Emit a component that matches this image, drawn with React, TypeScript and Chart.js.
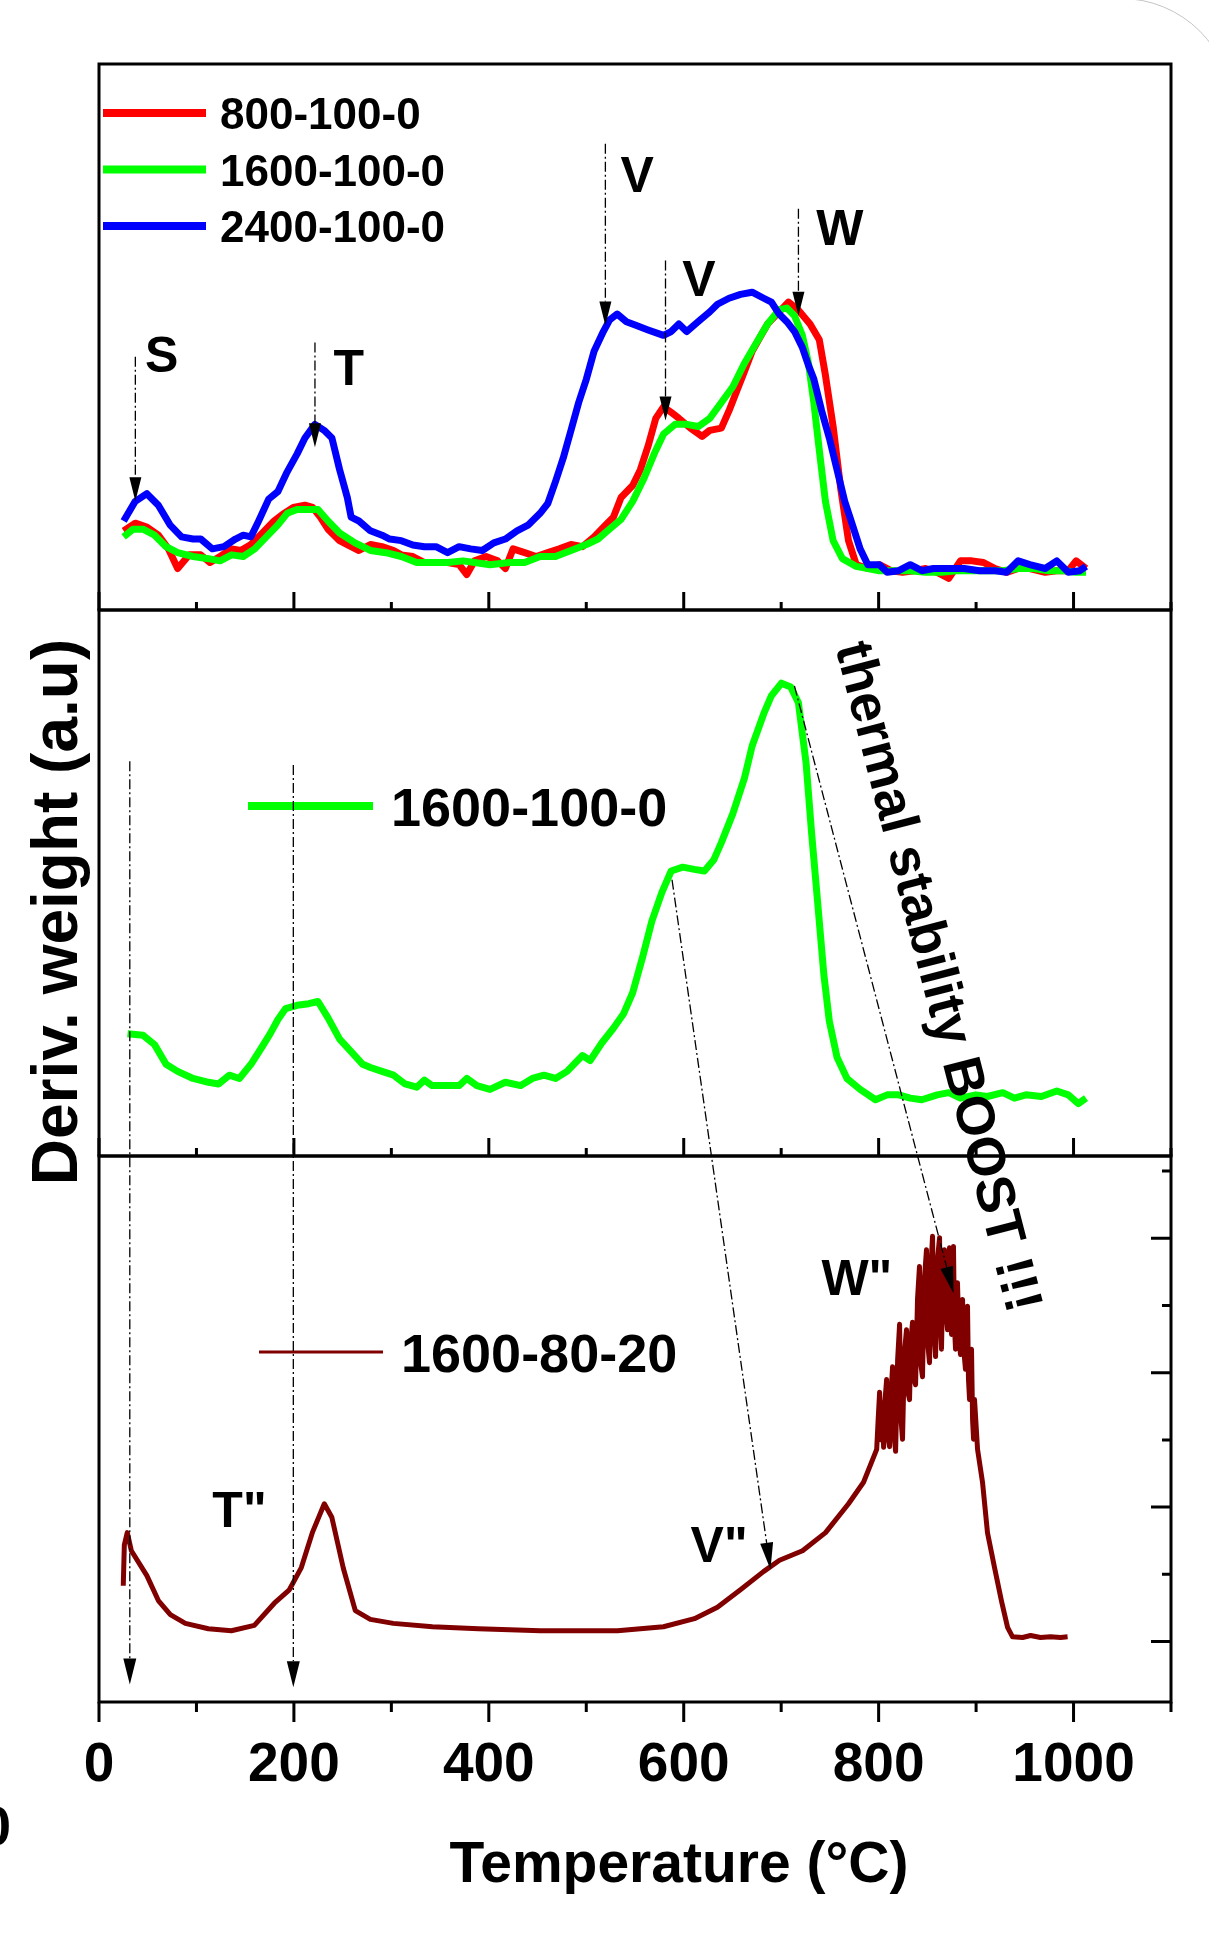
import React, { useEffect, useRef } from 'react';
import { Chart, registerables } from 'chart.js';

Chart.register(...registerables);

const FONT = "'Liberation Sans', Arial, Helvetica, sans-serif";

// ---- Panel (a): three samples, temperature (°C) and derivative weight (a.u., 0-100 panel units)
const RED_T = [25.3, 37.2, 49.1, 60.9, 71.2, 80.7, 92.6, 104.4, 113.9, 124.2, 136.1, 145.6, 155.9, 167.7, 179.6, 189.9, 199.4, 211.3, 219.2, 227.1, 235.0, 246.9, 258.7, 266.7, 278.5, 290.4, 302.3, 310.2, 322.0, 333.9, 345.8, 357.7, 369.5, 377.4, 385.4, 397.2, 409.1, 417.0, 424.9, 436.8, 448.6, 460.5, 472.4, 484.3, 496.1, 508.0, 519.9, 527.8, 535.7, 547.6, 555.5, 563.4, 571.3, 579.2, 587.1, 595.0, 606.9, 618.8, 626.7, 638.6, 646.5, 654.4, 662.3, 670.2, 678.1, 686.1, 697.9, 707.4, 717.7, 729.6, 739.1, 745.4, 753.3, 761.2, 769.1, 777.0, 788.9, 800.8, 812.7, 824.5, 836.4, 848.3, 860.1, 872.0, 883.9, 895.7, 907.6, 919.5, 931.3, 943.2, 955.1, 970.9, 982.8, 994.6, 1002.6, 1012.8];
const RED_V = [14.5, 15.9, 15.2, 13.7, 11.2, 7.6, 10.1, 10.1, 8.7, 9.8, 11.2, 10.9, 12.0, 14.1, 16.3, 17.7, 18.8, 19.2, 18.8, 17.0, 14.8, 12.7, 11.6, 10.9, 12.0, 11.6, 10.9, 10.1, 9.8, 8.7, 8.7, 8.7, 8.3, 6.5, 9.0, 9.8, 9.0, 7.6, 11.2, 10.5, 9.8, 10.5, 11.2, 12.0, 11.6, 13.4, 15.6, 17.0, 20.6, 22.8, 25.7, 30.0, 35.1, 37.2, 36.2, 35.1, 33.3, 31.8, 32.9, 33.3, 36.5, 40.1, 43.7, 47.4, 49.9, 52.4, 54.6, 56.4, 54.9, 52.4, 49.5, 43.0, 33.6, 22.1, 12.7, 8.3, 7.6, 8.3, 7.2, 6.9, 7.2, 7.6, 6.9, 5.8, 9.0, 9.0, 8.7, 7.6, 6.9, 7.6, 7.6, 6.9, 7.2, 7.2, 9.0, 7.6];

const GREEN_T = [25.3, 34.8, 45.1, 57.0, 68.8, 80.7, 96.5, 112.4, 124.2, 136.1, 148.0, 159.8, 171.7, 183.6, 193.1, 203.3, 215.2, 224.7, 235.0, 246.9, 262.7, 278.5, 294.4, 310.2, 326.0, 341.8, 357.7, 373.5, 385.4, 401.2, 421.0, 436.8, 452.6, 468.4, 484.3, 500.1, 512.0, 523.8, 535.7, 547.6, 559.4, 569.7, 579.2, 591.1, 603.0, 614.8, 626.7, 638.6, 650.4, 662.3, 674.2, 686.1, 697.9, 705.8, 713.7, 721.7, 728.0, 733.5, 739.1, 745.4, 753.3, 762.8, 777.0, 788.9, 800.8, 816.6, 832.4, 848.3, 864.1, 879.9, 895.7, 911.6, 927.4, 943.2, 959.0, 974.9, 990.7, 1002.6, 1012.8];
const GREEN_V = [13.4, 14.8, 14.8, 13.7, 11.6, 10.5, 9.8, 9.4, 9.0, 10.1, 9.8, 11.2, 13.4, 15.6, 17.7, 18.4, 18.4, 18.4, 16.3, 14.1, 12.3, 10.9, 10.5, 9.8, 8.7, 8.7, 8.7, 9.0, 8.7, 8.3, 8.7, 8.7, 9.8, 9.8, 10.9, 12.0, 13.0, 14.8, 16.6, 19.9, 24.2, 28.6, 32.2, 34.0, 34.0, 33.6, 35.1, 38.0, 40.9, 45.2, 48.8, 52.4, 55.0, 55.3, 53.9, 50.3, 45.2, 38.0, 29.3, 19.9, 12.7, 9.4, 8.0, 7.6, 7.2, 7.2, 7.2, 6.9, 6.9, 7.2, 7.2, 7.2, 7.2, 7.6, 7.6, 7.2, 7.2, 6.9, 6.9];

const BLUE_T = [25.3, 37.2, 49.1, 60.9, 72.8, 84.7, 96.5, 104.4, 116.3, 128.2, 140.0, 148.0, 155.9, 163.8, 174.1, 183.6, 193.1, 203.3, 211.3, 221.5, 231.0, 239.0, 246.9, 254.8, 258.7, 266.7, 278.5, 290.4, 298.3, 310.2, 322.0, 333.9, 345.8, 357.7, 369.5, 381.4, 393.3, 405.1, 417.0, 428.9, 440.7, 452.6, 460.5, 468.4, 476.3, 484.3, 492.2, 500.1, 508.0, 517.5, 523.8, 531.7, 541.2, 551.5, 563.4, 579.2, 587.1, 595.0, 603.0, 614.8, 626.7, 634.6, 646.5, 658.3, 670.2, 682.1, 690.0, 697.9, 705.8, 713.7, 721.7, 728.0, 733.5, 741.5, 749.4, 757.3, 765.2, 773.1, 781.0, 788.9, 800.8, 808.7, 820.6, 832.4, 844.3, 856.2, 872.0, 887.8, 903.6, 919.5, 931.3, 943.2, 955.1, 970.9, 982.8, 994.6, 1006.5, 1012.8];
const BLUE_V = [16.3, 19.9, 21.3, 19.2, 15.6, 13.4, 13.0, 13.0, 11.2, 11.6, 13.0, 13.7, 13.4, 16.3, 20.3, 21.7, 25.3, 28.6, 31.5, 34.0, 32.9, 31.5, 25.7, 20.6, 17.0, 16.3, 14.5, 13.7, 13.0, 12.7, 11.9, 11.6, 11.6, 10.5, 11.6, 11.2, 10.9, 12.3, 13.0, 14.5, 15.6, 17.7, 19.5, 23.5, 27.8, 32.9, 38.0, 42.3, 47.4, 51.0, 53.1, 54.2, 52.8, 52.1, 51.3, 50.3, 51.0, 52.4, 51.0, 52.8, 54.6, 56.0, 57.1, 57.8, 58.2, 57.1, 56.4, 54.2, 52.8, 51.0, 48.1, 44.8, 42.3, 36.5, 31.5, 25.7, 19.9, 15.6, 11.2, 8.3, 8.3, 6.9, 7.2, 8.3, 7.2, 7.6, 7.6, 7.6, 7.2, 7.2, 6.9, 9.0, 8.3, 7.6, 9.0, 6.9, 7.2, 8.0];

// ---- Panel (b): 1600-100-0 alone
const MID_T = [29.3, 45.1, 57.0, 68.8, 80.7, 96.5, 112.4, 122.6, 133.7, 144.0, 155.9, 167.7, 175.7, 183.6, 191.5, 203.3, 215.2, 224.7, 235.0, 246.9, 258.7, 270.6, 278.5, 290.4, 302.3, 314.1, 326.0, 333.9, 341.8, 357.7, 369.5, 377.4, 387.7, 401.2, 417.0, 432.8, 444.7, 456.6, 468.4, 480.3, 496.1, 504.0, 515.9, 527.8, 538.1, 547.6, 557.9, 567.3, 577.6, 587.1, 599.0, 610.9, 621.2, 630.7, 638.6, 650.4, 662.3, 670.2, 682.1, 690.0, 700.3, 709.8, 717.7, 725.6, 731.1, 737.5, 743.8, 749.4, 757.3, 767.5, 781.0, 796.8, 808.7, 820.6, 832.4, 844.3, 860.1, 872.0, 883.9, 899.7, 911.6, 927.4, 939.3, 951.1, 967.0, 982.8, 994.6, 1004.9, 1012.8];
const MID_V = [22.4, 22.1, 20.4, 16.8, 15.5, 14.2, 13.5, 13.2, 14.8, 14.2, 16.8, 20.1, 22.4, 25.0, 27.0, 27.6, 27.9, 28.3, 25.3, 21.4, 19.1, 16.8, 16.2, 15.5, 14.8, 13.2, 12.6, 13.9, 12.9, 12.9, 12.9, 14.2, 12.9, 12.2, 13.5, 12.9, 14.2, 14.8, 14.2, 15.5, 18.4, 17.5, 20.7, 23.4, 26.0, 29.9, 36.5, 43.0, 48.3, 52.2, 52.9, 52.5, 52.2, 54.2, 57.4, 62.7, 69.2, 75.1, 81.0, 84.3, 86.6, 85.9, 83.0, 71.9, 59.4, 46.3, 33.2, 24.7, 18.1, 14.2, 12.2, 10.3, 11.2, 11.2, 10.6, 10.3, 11.2, 11.6, 10.6, 11.2, 10.9, 11.6, 10.6, 11.2, 10.9, 11.9, 11.2, 9.6, 10.6];

// ---- Panel (c): 1600-80-20 (right-axis tick units)
const BOT_T = [24.9, 26.0, 29.0, 33.2, 49.1, 60.9, 73.2, 88.6, 112.2, 135.8, 159.4, 179.9, 195.3, 207.6, 218.9, 231.2, 238.9, 250.7, 263.0, 278.4, 302.0, 342.1, 389.3, 453.0, 532.0, 579.2, 611.0, 634.6, 658.2, 681.8, 698.3, 721.9, 745.5, 769.1, 784.5,
  798.0, 799.5, 801.0, 802.5, 803.8, 805.1, 806.6, 808.2, 809.7, 811.2, 812.8, 814.3, 815.8, 817.4, 819.5, 821.5, 823.0, 824.5, 826.5, 828.6, 830.2, 831.7, 833.2, 834.8, 836.3, 837.9, 839.9, 841.9, 843.5, 845.0, 847.0, 849.1, 850.6, 852.2, 853.8, 855.3, 856.8, 858.4, 860.5, 862.5, 863.5, 864.5, 866.0, 867.6, 869.2, 870.7, 871.7, 872.7, 873.8, 874.8, 875.8, 876.8, 877.8, 878.9, 879.9, 880.9, 882.5, 884.0, 885.0, 886.1, 887.6, 889.1, 890.2, 891.2, 892.2, 893.3, 894.3, 895.3, 896.4, 897.4, 898.4,
  901.5, 906.6, 911.7, 918.9, 926.1, 932.3, 937.4, 947.7, 955.9, 966.1, 976.4, 986.7, 993.9];
const BOT_V = [0.83, 1.44, 1.62, 1.35, 0.98, 0.61, 0.40, 0.27, 0.19, 0.16, 0.24, 0.57, 0.77, 1.10, 1.62, 2.05, 1.85, 1.09, 0.46, 0.33, 0.27, 0.22, 0.19, 0.16, 0.16, 0.22, 0.34, 0.51, 0.77, 1.04, 1.21, 1.35, 1.62, 2.05, 2.37,
  2.86, 3.30, 3.71, 3.00, 3.55, 2.89, 3.60, 3.90, 3.05, 2.90, 3.70, 4.09, 3.10, 2.83, 4.20, 4.72, 3.30, 3.01, 4.30, 4.64, 3.70, 3.60, 4.50, 4.75, 3.90, 3.82, 5.10, 5.58, 4.10, 3.94, 5.40, 5.83, 4.40, 4.15, 5.60, 6.03, 4.60, 4.24, 5.70, 6.01, 4.70, 4.35, 5.50, 5.83, 4.90, 4.64, 5.40, 5.86, 4.80, 4.57, 5.50, 5.88, 4.70, 4.35, 5.00, 5.34, 4.50, 4.27, 4.80, 5.09, 4.30, 4.05, 4.70, 4.99, 3.90, 3.60, 4.10, 4.35, 3.30, 3.01, 3.60,
  2.86, 2.37, 1.62, 1.10, 0.60, 0.21, 0.07, 0.06, 0.09, 0.06, 0.07, 0.06, 0.07];

// ---- axes
const X_TICKS = [0, 100, 200, 300, 400, 500, 600, 700, 800, 900, 1000, 1100];
const X_LABEL_STEP = 200;
const Y3_TICKS = [0, 1, 2, 3, 4, 5, 6, 7];

// ---- annotations (data coordinates)
const TOP_ARROW_X = [37.3, 221.6, 519.6, 581.3, 717.7];
const TOP_ARROW_FROM = [46.4, 49.0, 85.4, 64.0, 73.5];
const TOP_ARROW_TO = [19.9, 29.8, 52.1, 34.7, 53.9];
const TOP_LABELS = ['S', 'T', 'V', 'V', 'W'];
const TOP_LABEL_X = [47.2, 240.5, 535.0, 598.6, 736.0];
const TOP_LABEL_Y = [43.5, 41.3, 76.6, 57.6, 66.9];

const LONG_ARROW_X = [31.6, 199.4];
const LONG_ARROW_FROM_MID = [72.3, 71.6];
const LONG_ARROW_TO_BOT = [-0.64, -0.68];

const DIAG_FROM_X = [588.0, 713.6];
const DIAG_FROM_MID = [50.6, 86.1];
const DIAG_TO_X = [689.0, 876.9];
const DIAG_TO_BOT = [1.07, 5.18];

const BOT_LABELS = ['T"', 'V"', 'W"'];
const BOT_LABEL_X = [116.3, 607.0, 741.3];
const BOT_LABEL_Y = [1.71, 1.18, 5.16];

const TOP_LEGEND = ['800-100-0', '1600-100-0', '2400-100-0'];
const TOP_COLORS = ['#ff0000', '#00ff00', '#0000ff'];

const zip = (xs: number[], ys: number[]) => {
  const n = Math.min(xs.length, ys.length);
  const out: { x: number; y: number }[] = [];
  for (let i = 0; i < n; i++) out.push({ x: xs[i], y: ys[i] });
  return out;
};

function text(ctx: CanvasRenderingContext2D, s: string, x: number, y: number, size: number, align: CanvasTextAlign = 'left') {
  ctx.font = `bold ${size}px ${FONT}`;
  ctx.textAlign = align;
  ctx.textBaseline = 'alphabetic';
  ctx.fillStyle = '#000';
  ctx.fillText(s, x, y);
}

function arrow(ctx: CanvasRenderingContext2D, x0: number, y0: number, x1: number, y1: number, len: number, hw: number) {
  const a = Math.atan2(y1 - y0, x1 - x0);
  const bx = x1 - len * Math.cos(a);
  const by = y1 - len * Math.sin(a);
  ctx.save();
  ctx.strokeStyle = '#000';
  ctx.lineWidth = 1.3;
  ctx.setLineDash([10, 3, 2, 3]);
  ctx.beginPath();
  ctx.moveTo(x0, y0);
  ctx.lineTo(bx, by);
  ctx.stroke();
  ctx.restore();
  ctx.beginPath();
  ctx.moveTo(x1, y1);
  ctx.lineTo(bx + hw * Math.sin(a), by - hw * Math.cos(a));
  ctx.lineTo(bx - hw * Math.sin(a), by + hw * Math.cos(a));
  ctx.closePath();
  ctx.fillStyle = '#000';
  ctx.fill();
}

const decorPlugin = {
  id: 'decor',
  afterDatasetsDraw(chart: any) {
    const ctx: CanvasRenderingContext2D = chart.ctx;
    const xs = chart.scales.x;
    const y1 = chart.scales.y1;
    const y2 = chart.scales.y2;
    const y3 = chart.scales.y3;
    const { left, right } = chart.chartArea;
    const X = (v: number) => xs.getPixelForValue(v);
    ctx.save();

    // panel frames
    ctx.strokeStyle = '#000';
    ctx.lineWidth = 3;
    ctx.setLineDash([]);
    [y1, y2, y3].forEach((s: any) => ctx.strokeRect(left, s.top, right - left, s.bottom - s.top));

    // x ticks: inward for the two upper panels, outward for the bottom one
    ctx.beginPath();
    X_TICKS.forEach((v) => {
      const px = X(v);
      const major = v % X_LABEL_STEP === 0;
      [y1, y2].forEach((s: any) => {
        ctx.moveTo(px, s.bottom);
        ctx.lineTo(px, s.bottom - (major ? 18 : 8));
      });
      ctx.moveTo(px, y3.bottom);
      ctx.lineTo(px, y3.bottom + (major ? 20 : 10));
    });
    // right axis ticks of bottom panel (inward)
    Y3_TICKS.forEach((v) => {
      const py = y3.getPixelForValue(v);
      ctx.moveTo(right, py);
      ctx.lineTo(right - (v % 2 === 0 ? 20 : 9), py);
    });
    ctx.stroke();

    // legend of panel (a)
    TOP_LEGEND.forEach((name, i) => {
      const ly = y1.top + 49 + i * 56.5;
      ctx.strokeStyle = TOP_COLORS[i];
      ctx.lineWidth = 8;
      ctx.beginPath();
      ctx.moveTo(left + 4, ly);
      ctx.lineTo(left + 107, ly);
      ctx.stroke();
      text(ctx, name, left + 121, ly + 16, 44);
    });

    // legend of panel (b)
    ctx.strokeStyle = '#00ff00';
    ctx.lineWidth = 8;
    ctx.beginPath();
    ctx.moveTo(248, 806);
    ctx.lineTo(373, 806);
    ctx.stroke();
    text(ctx, '1600-100-0', 391, 826, 54);

    // legend of panel (c)
    ctx.strokeStyle = '#800000';
    ctx.lineWidth = 3;
    ctx.beginPath();
    ctx.moveTo(259, 1352);
    ctx.lineTo(383, 1352);
    ctx.stroke();
    text(ctx, '1600-80-20', 401, 1372, 54);

    // arrows + labels panel (a)
    TOP_ARROW_X.forEach((v, i) => {
      const px = X(v);
      arrow(ctx, px, y1.getPixelForValue(TOP_ARROW_FROM[i]), px, y1.getPixelForValue(TOP_ARROW_TO[i]), 24, 6);
    });
    TOP_LABELS.forEach((s, i) => text(ctx, s, X(TOP_LABEL_X[i]), y1.getPixelForValue(TOP_LABEL_Y[i]), 50));

    // long vertical arrows through panels (b) and (c)
    LONG_ARROW_X.forEach((v, i) => {
      const px = X(v);
      arrow(ctx, px, y2.getPixelForValue(LONG_ARROW_FROM_MID[i]), px, y3.getPixelForValue(LONG_ARROW_TO_BOT[i]), 26, 6.5);
    });
    // diagonal arrows (b) -> (c)
    DIAG_FROM_X.forEach((v, i) => {
      arrow(ctx, X(v), y2.getPixelForValue(DIAG_FROM_MID[i]), X(DIAG_TO_X[i]), y3.getPixelForValue(DIAG_TO_BOT[i]), 27, 6.5);
    });
    BOT_LABELS.forEach((s, i) => text(ctx, s, X(BOT_LABEL_X[i]), y3.getPixelForValue(BOT_LABEL_Y[i]), 50));

    // rotated comment
    ctx.save();
    ctx.translate(X(770.2), y2.getPixelForValue(93.9));
    ctx.rotate((75.5 * Math.PI) / 180);
    ctx.font = `bold 54px ${FONT}`;
    ctx.textAlign = 'left';
    ctx.textBaseline = 'middle';
    ctx.fillStyle = '#000';
    ctx.fillText('thermal stability BOOST !!!', 0, 0);
    ctx.restore();

    // axis titles
    text(ctx, 'Temperature (°C)', 679, 1882, 57, 'center');
    ctx.save();
    ctx.translate(77, 912);
    ctx.rotate(-Math.PI / 2);
    text(ctx, 'Deriv. weight (a.u)', 0, 0, 64, 'center');
    ctx.restore();

    // clipped neighbour label at the left edge
    text(ctx, '0', 11, 1845, 55, 'right');

    ctx.restore();
  },
};

const hiddenY = (min: number, max: number, weight: number) => ({
  type: 'linear' as const,
  position: 'left' as const,
  stack: 'panels',
  stackWeight: 1,
  weight,
  min,
  max,
  grid: { display: false, drawTicks: false },
  border: { display: false },
  ticks: { display: false },
  afterFit: (s: any) => {
    s.width = 0;
  },
});

export default function App() {
  const ref = useRef<HTMLCanvasElement>(null);
  useEffect(() => {
    if (!ref.current) return;
    const common = { pointRadius: 0, tension: 0, borderJoinStyle: 'round' as const, fill: false };
    const chart = new Chart(ref.current, {
      type: 'line',
      data: {
        datasets: [
          { ...common, label: '800-100-0', data: zip(RED_T, RED_V), yAxisID: 'y1', borderColor: '#ff0000', borderWidth: 7, order: 3 },
          { ...common, label: '1600-100-0', data: zip(GREEN_T, GREEN_V), yAxisID: 'y1', borderColor: '#00ff00', borderWidth: 7, order: 2 },
          { ...common, label: '2400-100-0', data: zip(BLUE_T, BLUE_V), yAxisID: 'y1', borderColor: '#0000ff', borderWidth: 7, order: 1 },
          { ...common, label: '1600-100-0 ', data: zip(MID_T, MID_V), yAxisID: 'y2', borderColor: '#00ff00', borderWidth: 7, order: 1 },
          { ...common, label: '1600-80-20', data: zip(BOT_T, BOT_V), yAxisID: 'y3', borderColor: '#800000', borderWidth: 5, order: 1 },
        ],
      },
      options: {
        responsive: false,
        animation: false,
        devicePixelRatio: 1,
        layout: { padding: { left: 99, right: 38, top: 64, bottom: 0 } },
        plugins: { legend: { display: false }, tooltip: { enabled: false } },
        scales: {
          x: {
            type: 'linear',
            position: 'bottom',
            min: 0,
            max: 1100,
            afterBuildTicks: (s: any) => {
              s.ticks = X_TICKS.map((v) => ({ value: v }));
            },
            afterFit: (s: any) => {
              s.height = 233;
            },
            grid: { display: false, drawTicks: false },
            border: { display: false },
            ticks: {
              autoSkip: false,
              maxRotation: 0,
              minRotation: 0,
              padding: 31,
              color: '#000',
              font: { family: FONT, size: 55, weight: 'bold' },
              callback: (v: any) => (Number(v) % X_LABEL_STEP === 0 && Number(v) <= 1000 ? String(v) : ''),
            },
          },
          y1: hiddenY(0, 100, 3),
          y2: hiddenY(0, 100, 2),
          y3: hiddenY(-0.9, 7.225, 1),
        } as any,
      },
      plugins: [decorPlugin],
    });
    return () => chart.destroy();
  }, []);

  return (
    <div style={{ position: 'absolute', left: 0, top: 0, width: 1209, height: 1935, overflow: 'hidden', background: '#fff' }}>
      <canvas ref={ref} width={1209} height={1935} style={{ display: 'block', width: 1209, height: 1935 }} />
      <div
        style={{
          position: 'absolute',
          left: -200,
          top: -2.5,
          width: 1432.5,
          height: 2300,
          border: '1.5px solid #c4c4c4',
          borderRadius: 112,
          boxSizing: 'border-box',
          pointerEvents: 'none',
        }}
      />
    </div>
  );
}
